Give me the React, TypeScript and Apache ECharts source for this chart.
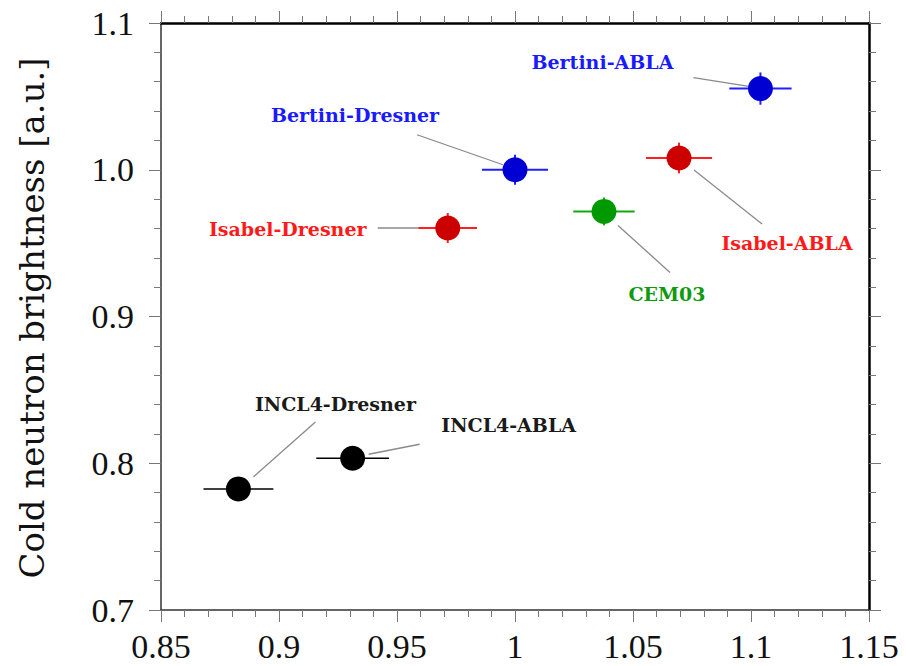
import React, { useEffect, useRef } from "react";
import * as echarts from "echarts";

// ---- data ----
const names = ["Bertini-ABLA", "Isabel-ABLA", "Bertini-Dresner", "Isabel-Dresner", "CEM03", "INCL4-Dresner", "INCL4-ABLA"];
const models = ["Bertini", "Isabel", "Bertini", "Isabel", "CEM03", "INCL4", "INCL4"];
const xValues = [1.104, 1.0695, 1.0, 0.9715, 1.0377, 0.8828, 0.9312];
const yValues = [1.0553, 1.008, 1.0, 0.9603, 0.9716, 0.7825, 0.8034];
const xErrors = [0.0132, 0.014, 0.014, 0.0124, 0.013, 0.0148, 0.0154];
const yErrors = [0.011, 0.0105, 0.0102, 0.0102, 0.0095, 0.006, 0.006];
const xTicks = [0.85, 0.9, 0.95, 1, 1.05, 1.1, 1.15];
const yTicks = [0.7, 0.8, 0.9, 1.0, 1.1];
const yTitle = "Cold neutron brightness [a.u.]";

// ---- styles / layout ----
const pointColor: Record<string, string> = { Bertini: "#0000d2", Isabel: "#cc0000", CEM03: "#009a00", INCL4: "#000000" };
const barColor: Record<string, string> = { Bertini: "#1f1fff", Isabel: "#ff1f1f", CEM03: "#10aa10", INCL4: "#000000" };
const textColor: Record<string, string> = { Bertini: "#1a1aff", Isabel: "#ff1a1a", CEM03: "#109a10", INCL4: "#1a1a1a" };
// label offsets in px relative to the point: text centre (dx, dy), connector [x1, y1, x2, y2]
const labelLayout: Record<string, { dx: number; dy: number; line: number[] }> = {
  "Bertini-ABLA": { dx: -158, dy: -27, line: [-67, -11, -10, -2] },
  "Isabel-ABLA": { dx: 108, dy: 85, line: [15, 12, 83, 66] },
  "Bertini-Dresner": { dx: -160, dy: -55, line: [-98, -35, -12, -5] },
  "Isabel-Dresner": { dx: -160, dy: 1, line: [-70, 0, -10, 0] },
  "CEM03": { dx: 63, dy: 83, line: [14, 14, 66, 61] },
  "INCL4-Dresner": { dx: 97, dy: -85, line: [15, -12, 77, -67] },
  "INCL4-ABLA": { dx: 156, dy: -33, line: [16, -4, 67, -14] },
};

export default function App() {
  const ref = useRef<HTMLDivElement>(null);
  useEffect(() => {
    document.body.style.margin = "0";
    const chart = echarts.init(ref.current!, undefined, { renderer: "svg" });
    const fmtX = (v: number) => String(parseFloat(v.toFixed(2)));
    const fmtY = (v: number) => v.toFixed(1);
    const tickFont = { fontFamily: "Liberation Serif", fontSize: 34, color: "#111" };
    const xBase = {
      type: "value" as const,
      min: xTicks[0],
      max: xTicks[xTicks.length - 1],
      interval: xTicks[1] - xTicks[0],
      splitLine: { show: false },
      minorTick: { show: true, splitNumber: 5, length: 7, lineStyle: { color: "#777", width: 1 } },
      axisTick: { show: true, inside: false, length: 12, lineStyle: { color: "#777", width: 1 } },
    };
    const yBase = {
      type: "value" as const,
      min: yTicks[0],
      max: yTicks[yTicks.length - 1],
      interval: 0.1,
      splitLine: { show: false },
      minorTick: { show: true, splitNumber: 5, length: 7, lineStyle: { color: "#777", width: 1 } },
      axisTick: { show: true, inside: false, length: 12, lineStyle: { color: "#777", width: 1 } },
    };
    const data = names.map((n, i) => [xValues[i], yValues[i], xErrors[i], yErrors[i], i]);

    chart.setOption({
      animation: false,
      backgroundColor: "#ffffff",
      grid: { left: 161, right: 37, top: 23, bottom: 56, containLabel: false, outerBoundsMode: "none" },
      xAxis: [
        {
          ...xBase,
          position: "bottom",
          axisLine: { show: true, onZero: false, lineStyle: { color: "#333", width: 1.5 } },
          axisLabel: { ...tickFont, margin: 19, formatter: fmtX },
        },
        {
          ...xBase,
          position: "top",
          axisLine: { show: true, onZero: false, lineStyle: { color: "#000", width: 2.5 } },
          axisLabel: { show: false },
        },
      ],
      yAxis: [
        {
          ...yBase,
          position: "left",
          axisLine: { show: true, onZero: false, lineStyle: { color: "#333", width: 1.5 } },
          axisLabel: { ...tickFont, margin: 27, formatter: fmtY },
        },
        {
          ...yBase,
          position: "right",
          axisLine: { show: true, onZero: false, lineStyle: { color: "#000", width: 2.5 } },
          axisLabel: { show: false },
        },
      ],
      graphic: [
        {
          type: "text",
          x: 32,
          y: 318,
          rotation: Math.PI / 2,
          style: {
            text: yTitle,
            fontFamily: "DejaVu Serif",
            fontSize: 34,
            fill: "#111",
            align: "center",
            verticalAlign: "middle",
          },
        },
      ],
      series: [
        {
          type: "custom",
          xAxisIndex: 0,
          yAxisIndex: 0,
          z: 2,
          data,
          encode: { x: 0, y: 1 },
          renderItem: (params: any, api: any) => {
            const i = api.value(4);
            const x = api.value(0);
            const y = api.value(1);
            const xe = api.value(2);
            const ye = api.value(3);
            const c = api.coord([x, y]);
            const l = api.coord([x - xe, y]);
            const r = api.coord([x + xe, y]);
            const t = api.coord([x, y + ye]);
            const b = api.coord([x, y - ye]);
            const name = names[i];
            const m = models[i];
            const lay = labelLayout[name];
            const bw = m === "INCL4" ? 1.6 : 2;
            return {
              type: "group",
              children: [
                {
                  type: "line",
                  shape: { x1: c[0] + lay.line[0], y1: c[1] + lay.line[1], x2: c[0] + lay.line[2], y2: c[1] + lay.line[3] },
                  style: { stroke: "#8a8a8a", lineWidth: 1.3 },
                },
                { type: "line", shape: { x1: l[0], y1: l[1], x2: r[0], y2: r[1] }, style: { stroke: barColor[m], lineWidth: bw } },
                { type: "line", shape: { x1: t[0], y1: t[1], x2: b[0], y2: b[1] }, style: { stroke: barColor[m], lineWidth: bw } },
                {
                  type: "text",
                  x: c[0] + lay.dx,
                  y: c[1] + lay.dy,
                  style: {
                    text: name,
                    fill: textColor[m],
                    fontFamily: "DejaVu Serif",
                    fontWeight: "bold",
                    fontSize: 19,
                    align: "center",
                    verticalAlign: "middle",
                  },
                },
              ],
            };
          },
        },
        {
          type: "scatter",
          xAxisIndex: 0,
          yAxisIndex: 0,
          z: 3,
          symbol: "circle",
          symbolSize: 25,
          data: names.map((n, i) => ({
            value: [xValues[i], yValues[i]],
            name: n,
            itemStyle: { color: pointColor[models[i]], opacity: 1 },
          })),
        },
      ],
    });
    return () => chart.dispose();
  }, []);
  return <div ref={ref} style={{ width: 906, height: 666 }} />;
}
